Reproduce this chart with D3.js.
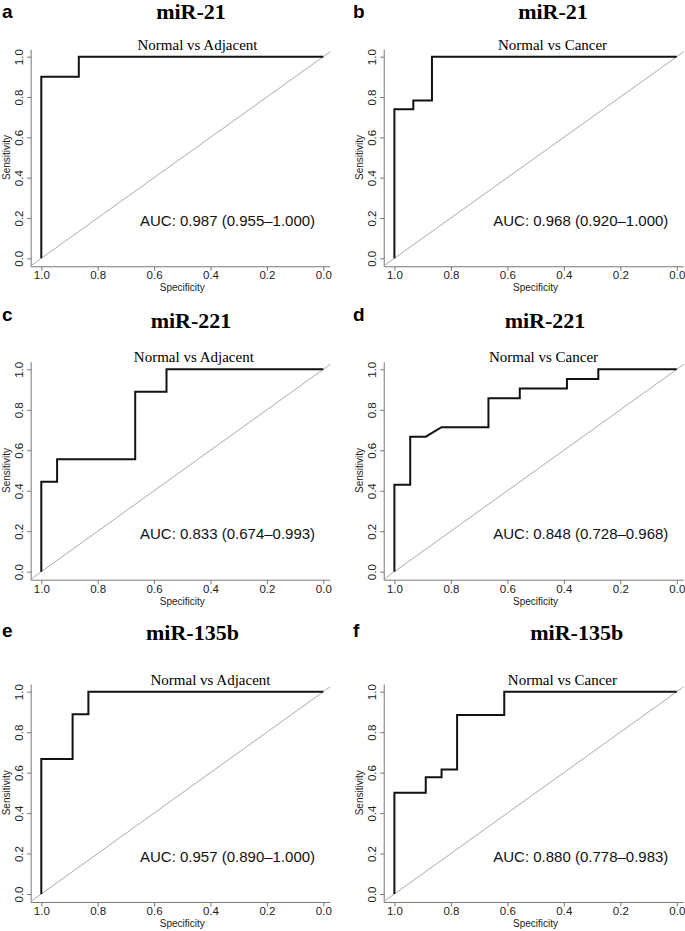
<!DOCTYPE html>
<html>
<head>
<meta charset="utf-8">
<script src="https://cdn.jsdelivr.net/npm/d3@7"></script>
<style>
  body { margin: 0; background: #fff; }
  svg { display: block; }
  .tick text { font-family: "Liberation Sans", Arial, sans-serif; font-size: 11.5px; fill: #222; }
  .tick line { stroke: #777; }
</style>
</head>
<body>
<script>
// Panel labels and titles
var panelLetters = ["a", "b", "c", "d", "e", "f"];
var mirNames = ["miR-21", "miR-21", "miR-221", "miR-221", "miR-135b", "miR-135b"];
var comparisons = ["Normal vs Adjacent", "Normal vs Cancer", "Normal vs Adjacent",
                   "Normal vs Cancer", "Normal vs Adjacent", "Normal vs Cancer"];
var aucLabels = ["AUC: 0.987 (0.955\u20131.000)", "AUC: 0.968 (0.920\u20131.000)",
                 "AUC: 0.833 (0.674\u20130.993)", "AUC: 0.848 (0.728\u20130.968)",
                 "AUC: 0.957 (0.890\u20131.000)", "AUC: 0.880 (0.778\u20130.983)"];
var tickValues = [0, 0.2, 0.4, 0.6, 0.8, 1.0];

// ROC curves (specificity, sensitivity)
var specA = [1, 1, 0.867, 0.867, 0];
var sensA = [0, 0.9, 0.9, 1, 1];
var specB = [1, 1, 0.933, 0.933, 0.867, 0.867, 0];
var sensB = [0, 0.739, 0.739, 0.783, 0.783, 1, 1];
var specC = [1, 1, 0.944, 0.944, 0.667, 0.667, 0.556, 0.556, 0];
var sensC = [0, 0.444, 0.444, 0.556, 0.556, 0.889, 0.889, 1, 1];
var specD = [1, 1, 0.944, 0.944, 0.889, 0.833, 0.667, 0.667, 0.556, 0.556, 0.389, 0.389, 0.278, 0.278, 0];
var sensD = [0, 0.429, 0.429, 0.667, 0.667, 0.714, 0.714, 0.857, 0.857, 0.905, 0.905, 0.952, 0.952, 1, 1];
var specE = [1, 1, 0.889, 0.889, 0.833, 0.833, 0];
var sensE = [0, 0.667, 0.667, 0.889, 0.889, 1, 1];
var specF = [1, 1, 0.889, 0.889, 0.833, 0.833, 0.778, 0.778, 0.611, 0.611, 0];
var sensF = [0, 0.5, 0.5, 0.577, 0.577, 0.615, 0.615, 0.885, 0.885, 1, 1];

var specs = [specA, specB, specC, specD, specE, specF];
var senss = [sensA, sensB, sensC, sensD, sensE, sensF];

// Layout (pixel positions of specificity 1 / 0 and sensitivity 1 / 0)
var colX = [[41.3, 323.3], [394.4, 676.8]];
var rowY = [[56.7, 258.3], [369.3, 571.7], [691.7, 894]];
var titleX = [191, 553, 191, 545, 192.5, 576.7];
var titleBase = [18.5, 327.5, 640];
var letterBase = [17.5, 321, 637];
var subtitleSp = [0.446, 0.44, 0.459, 0.472, 0.40, 0.405];

var svgWidth = 685, svgHeight = 931;
var sans = '"Liberation Sans", Arial, sans-serif';
var serif = '"Liberation Serif", "Times New Roman", serif';

var svg = d3.select("body")
            .append("svg")
            .attr("width", svgWidth)
            .attr("height", svgHeight);

panelLetters.forEach(function(letter, i) {
    var col = i % 2, row = Math.floor(i / 2);

    var x = d3.scaleLinear().domain([1, 0]).range(colX[col]);
    var y = d3.scaleLinear().domain([1, 0]).range(rowY[row]);

    var g = svg.append("g");

    // clip to plot region
    var clipId = "clip" + i;
    var left = x(1.036), right = x(-0.025), top = y(1.035), bottom = y(-0.042);
    g.append("clipPath").attr("id", clipId)
     .append("rect")
     .attr("x", left).attr("y", top)
     .attr("width", right - left).attr("height", bottom - top);

    // panel letter
    g.append("text")
     .attr("x", col === 0 ? 2 : 353)
     .attr("y", letterBase[row])
     .style("font-family", sans)
     .style("font-weight", "bold")
     .style("font-size", "19px")
     .text(letter);

    // miRNA title
    g.append("text")
     .attr("x", titleX[i])
     .attr("y", titleBase[row])
     .attr("text-anchor", "middle")
     .style("font-family", serif)
     .style("font-weight", "bold")
     .style("font-size", "22px")
     .text(mirNames[i]);

    // comparison subtitle
    g.append("text")
     .attr("x", x(subtitleSp[i]))
     .attr("y", y(1) - 7)
     .attr("text-anchor", "middle")
     .style("font-family", serif)
     .style("font-size", "15px")
     .text(comparisons[i]);

    // axes
    var yAxis = g.append("g")
                 .attr("transform", "translate(" + left + ",0)")
                 .call(d3.axisLeft(y).tickValues(tickValues).tickSize(4).tickFormat(d3.format(".1f")));
    yAxis.select(".domain").remove();
    yAxis.selectAll(".tick text")
         .attr("x", 0).attr("dy", 0)
         .attr("text-anchor", "middle")
         .attr("transform", "translate(-8.5,0) rotate(-90)");

    var xAxis = g.append("g")
                 .attr("transform", "translate(0," + bottom + ")")
                 .call(d3.axisBottom(x).tickValues(tickValues).tickSize(4).tickFormat(d3.format(".1f")));
    xAxis.select(".domain").remove();
    xAxis.selectAll(".tick text").attr("dy", 0).attr("y", 12.5);

    // L-shaped axis lines
    g.append("path")
     .attr("d", "M" + left + "," + top + "V" + bottom + "H" + right)
     .attr("fill", "none")
     .attr("stroke", "#777")
     .attr("stroke-width", 1);

    // axis titles
    g.append("text")
     .attr("transform", "translate(" + (left - 21.5) + "," + ((y(0) + y(1)) / 2) + ") rotate(-90)")
     .attr("text-anchor", "middle")
     .style("font-family", sans)
     .style("font-size", "10px")
     .style("fill", "#222")
     .text("Sensitivity");

    g.append("text")
     .attr("x", (x(0) + x(1)) / 2)
     .attr("y", y(0) + 33)
     .attr("text-anchor", "middle")
     .style("font-family", sans)
     .style("font-size", "10px")
     .style("fill", "#222")
     .text("Specificity");

    // chance diagonal
    g.append("line")
     .attr("clip-path", "url(#" + clipId + ")")
     .attr("x1", x(1.05)).attr("y1", y(-0.05))
     .attr("x2", x(-0.05)).attr("y2", y(1.05))
     .attr("stroke", "#aaa")
     .attr("stroke-width", 1);

    // ROC curve
    var pts = specs[i].map(function(s, k) { return [s, senss[i][k]]; });
    var line = d3.line()
                 .x(function(d) { return x(d[0]); })
                 .y(function(d) { return y(d[1]); });
    g.append("path")
     .datum(pts)
     .attr("d", line)
     .attr("fill", "none")
     .attr("stroke", "#111")
     .attr("stroke-width", 2);

    // AUC label
    g.append("text")
     .attr("x", x(0.65))
     .attr("y", y(0.16))
     .style("font-family", sans)
     .style("font-size", "15px")
     .style("fill", "#111")
     .text(aucLabels[i]);
});
</script>
</body>
</html>
